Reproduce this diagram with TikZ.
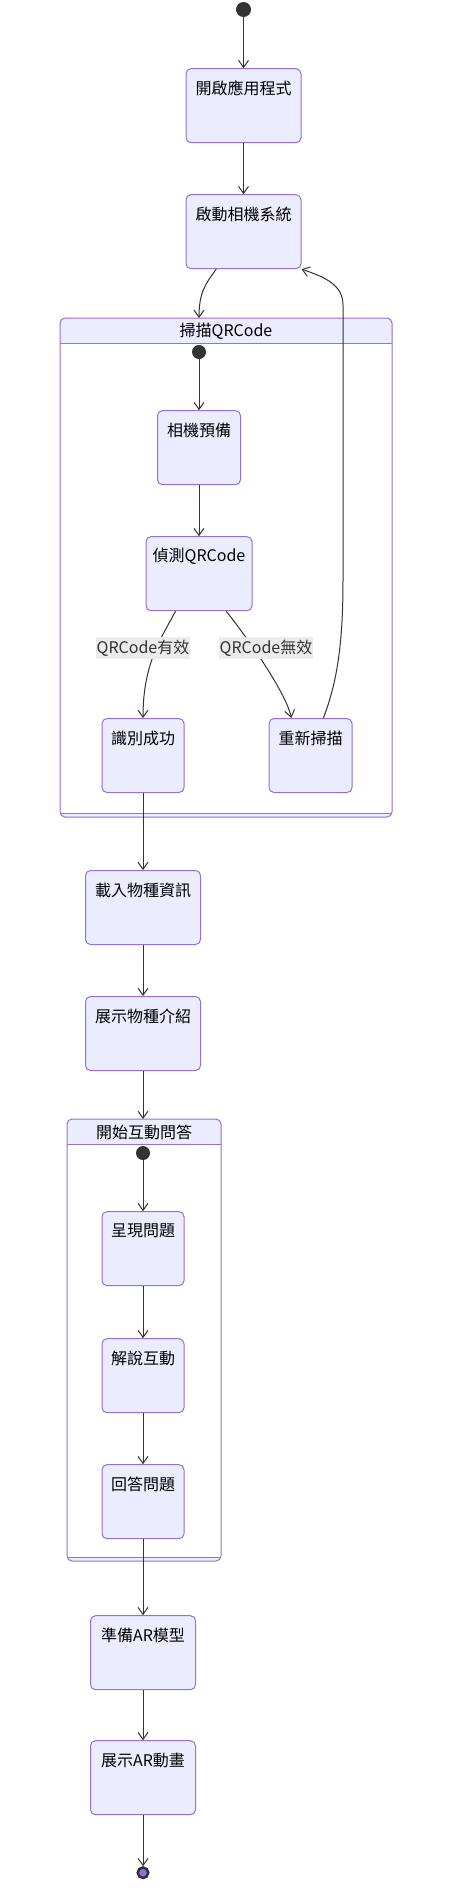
\documentclass[tikz,border=0pt]{standalone}
\usepackage{fontspec}
\setmainfont{Noto Sans CJK TC}
\usetikzlibrary{positioning,arrows.meta,calc}

\definecolor{statebg}{HTML}{ECECFF}
\definecolor{statebd}{HTML}{9370DB}
\definecolor{edgecol}{HTML}{333333}
\definecolor{lblbg}{HTML}{EBEBEB}

\tikzset{
  statefont/.style={font=\fontsize{16pt}{19pt}\selectfont, text=black},
  statebox/.style={draw=statebd, fill=statebg, line width=1pt, rounded corners=5pt,
    minimum height=74pt, inner sep=0pt},
  statetext/.style={statefont, anchor=center, yshift=-20pt, inner sep=0pt},
  startdot/.style={circle, fill=edgecol, minimum size=15pt, inner sep=0pt},
  enddot/.style={circle, draw=edgecol, line width=2.5pt, fill=statebd, minimum size=10.5pt, inner sep=0pt},
  cluster/.style={inner sep=0pt, outer sep=0pt},
  clusterline/.style={draw=statebd, line width=1pt},
  clustertitle/.style={statefont, inner sep=0pt},
  edge/.style={draw=edgecol, line width=1pt, -{Straight Barb[length=7pt,width=10pt]}},
  edgelabel/.style={statefont, text=edgecol, fill=lblbg, inner xsep=1pt, inner ysep=3pt}
}

\begin{document}
\begin{tikzpicture}[x=1pt, y=-1pt]
  \fill[white] (0,0) rectangle (458,1890);
  \useasboundingbox (0,0) rectangle (458,1890);

  \node[startdot] (init) at (243.5,9.5) {};
  \node[statebox, minimum width=115pt, below=51pt of init, label={[statetext]north:開啟應用程式}] (launch) {};
  \node[statebox, minimum width=115pt, below=51pt of launch, label={[statetext]north:啟動相機系統}] (camera) {};

  \node[cluster, minimum width=332pt, minimum height=499pt, anchor=north west] (scan) at (60,318) {};
  \begin{scope}
    \clip[rounded corners=5pt] (scan.south west) rectangle (scan.north east);
    \fill[statebg] (scan.north west) rectangle ($(scan.north east)+(0,-25pt)$);
    \fill[statebg] (scan.south west) rectangle ($(scan.south east)+(0,4pt)$);
  \end{scope}
  \draw[clusterline] ($(scan.north west)+(0,-25pt)$) -- ($(scan.north east)+(0,-25pt)$);
  \draw[clusterline] ($(scan.south west)+(0,4pt)$) -- ($(scan.south east)+(0,4pt)$);
  \draw[clusterline, rounded corners=5pt] (scan.south west) rectangle (scan.north east);
  \node[clustertitle] (scantitle) at ($(scan.north)+(0,-13pt)$) {掃描QRCode};

  \node[startdot, minimum size=14pt] (scaninit) at (199,352) {};
  \node[statebox, minimum width=83pt, below=51pt of scaninit, label={[statetext]north:相機預備}] (prep) {};
  \node[statebox, minimum width=106pt, below=51pt of prep, label={[statetext]north:偵測QRCode}] (detect) {};
  \node[statebox, minimum width=82pt, anchor=north, label={[statetext]north:識別成功}] (found) at (143,718) {};
  \node[statebox, minimum width=83pt, anchor=north, label={[statetext]north:重新掃描}] (retry) at (310.5,718) {};

  \node[statebox, minimum width=115pt, below=77pt of found, label={[statetext]north:載入物種資訊}] (load) {};
  \node[statebox, minimum width=115pt, below=51pt of load, label={[statetext]north:展示物種介紹}] (intro) {};

  \node[cluster, minimum width=154pt, minimum height=442pt, anchor=north west] (quiz) at (67,1119) {};
  \begin{scope}
    \clip[rounded corners=5pt] (quiz.south west) rectangle (quiz.north east);
    \fill[statebg] (quiz.north west) rectangle ($(quiz.north east)+(0,-25pt)$);
    \fill[statebg] (quiz.south west) rectangle ($(quiz.south east)+(0,4pt)$);
  \end{scope}
  \draw[clusterline] ($(quiz.north west)+(0,-25pt)$) -- ($(quiz.north east)+(0,-25pt)$);
  \draw[clusterline] ($(quiz.south west)+(0,4pt)$) -- ($(quiz.south east)+(0,4pt)$);
  \draw[clusterline, rounded corners=5pt] (quiz.south west) rectangle (quiz.north east);
  \node[clustertitle] (quiztitle) at ($(quiz.north)+(0,-13pt)$) {開始互動問答};

  \node[startdot, minimum size=14pt] (quizinit) at (143,1153) {};
  \node[statebox, minimum width=82pt, below=51pt of quizinit, label={[statetext]north:呈現問題}] (ask) {};
  \node[statebox, minimum width=82pt, below=52pt of ask, label={[statetext]north:解說互動}] (explain) {};
  \node[statebox, minimum width=82pt, below=51pt of explain, label={[statetext]north:回答問題}] (answer) {};

  \node[statebox, minimum width=105pt, below=76pt of answer, label={[statetext]north:準備AR模型}] (model) {};
  \node[statebox, minimum width=105pt, below=50pt of model, label={[statetext]north:展示AR動畫}] (anim) {};
  \node[enddot, below=51pt of anim] (final) {};

  \draw[edge] (init) -- (launch);
  \draw[edge] (launch) -- (camera);
  \draw[edge] (camera.234) .. controls (206,283) and (199,292) .. (scan.north -| scaninit);
  \draw[edge] (scaninit) -- (prep);
  \draw[edge] (prep) -- (detect);
  \draw[edge] (detect.238) .. controls (160,640) and (143,665) .. (found.north);
  \draw[edge] (detect.306) .. controls (245,635) and (285,690) .. (retry.117);
  \draw[edge] (retry.71) .. controls (338,680) and (343,640) .. (343,580) -- (343,305)
    .. controls (343,285) and (325,277) .. (camera.south east);
  \draw[edge] (found) -- (load);
  \draw[edge] (load) -- (intro);
  \draw[edge] (intro) -- (quiz.north -| quizinit);
  \draw[edge] (quizinit) -- (ask);
  \draw[edge] (ask) -- (explain);
  \draw[edge] (explain) -- (answer);
  \draw[edge] (answer) -- (model);
  \draw[edge] (model) -- (anim);
  \draw[edge] (anim) -- (final);

  \node[edgelabel] (validlbl) at (143,648) {QRCode有效};
  \node[edgelabel] (invalidlbl) at (266,648) {QRCode無效};
\end{tikzpicture}
\end{document}
